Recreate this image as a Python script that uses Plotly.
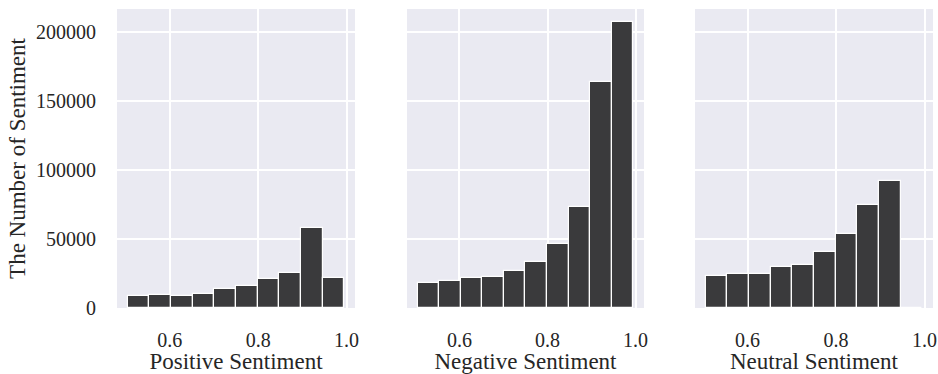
import plotly.graph_objects as go
from plotly.subplots import make_subplots

# Histogram bins (left edges) and bin width
bin_lefts = [0.505, 0.554, 0.603, 0.652, 0.701, 0.750, 0.799, 0.848, 0.897, 0.946]
bin_width = 0.049

positive_counts = [9050, 9300, 8800, 10300, 13700, 15900, 20800, 25500, 58300, 21500]
negative_counts = [18400, 19600, 21800, 22800, 26700, 33100, 46500, 73000, 164200, 207500]
neutral_counts = [23000, 24700, 24500, 29400, 30900, 40400, 53400, 74700, 92100, 0]

x_titles = ["Positive Sentiment", "Negative Sentiment", "Neutral Sentiment"]
y_title = "The Number of Sentiment"
x_ticks = [0.6, 0.8, 1.0]
x_tick_text = ["0.6", "0.8", "1.0"]
y_ticks = [0, 50000, 100000, 150000, 200000]
y_tick_text = ["0", "50000", "100000", "150000", "200000"]

series = [positive_counts, negative_counts, neutral_counts]

BAR = "#3a3a3c"
BG = "#eaeaf2"
TXT = "#262626"
FONT = "Liberation Serif"

fig = make_subplots(rows=1, cols=3, shared_yaxes=True, horizontal_spacing=0.0637)

centers = [b + bin_width / 2 for b in bin_lefts]
for i, counts in enumerate(series):
    fig.add_trace(
        go.Bar(
            x=centers,
            y=counts,
            width=[bin_width] * len(centers),
            marker=dict(color=BAR, line=dict(color="white", width=1.2)),
            showlegend=False,
        ),
        row=1, col=i + 1,
    )

domains = [[0.0, 0.2917], [0.3554, 0.6458], [0.7083, 1.0]]
for i in range(3):
    ax = "xaxis" if i == 0 else f"xaxis{i+1}"
    fig.layout[ax].update(
        domain=domains[i],
        range=[0.481, 1.019],
        tickvals=x_ticks,
        ticktext=x_tick_text,
        showgrid=True,
        gridcolor="white",
        gridwidth=1.5,
        zeroline=False,
        showline=False,
        ticks="outside",
        ticklen=14,
        tickcolor="rgba(0,0,0,0)",
        tickfont=dict(family=FONT, size=20, color=TXT),
        title=dict(text=x_titles[i], font=dict(family=FONT, size=23, color=TXT), standoff=0),
    )
    ay = "yaxis" if i == 0 else f"yaxis{i+1}"
    fig.layout[ay].update(
        range=[0, 217000],
        tickvals=y_ticks,
        ticktext=y_tick_text,
        showgrid=True,
        gridcolor="white",
        gridwidth=1.5,
        zeroline=False,
        showline=False,
        showticklabels=(i == 0),
        ticks="outside" if i == 0 else "",
        ticklen=16,
        tickcolor="rgba(0,0,0,0)",
        tickfont=dict(family=FONT, size=20, color=TXT),
    )

fig.layout.yaxis.title = dict(text=y_title, font=dict(family=FONT, size=23, color=TXT), standoff=3)

fig.update_layout(
    width=938,
    height=374,
    margin=dict(l=117, r=5, t=9, b=66, autoexpand=False),
    plot_bgcolor=BG,
    paper_bgcolor="white",
    bargap=0,
)

fig.write_html("out.html")
